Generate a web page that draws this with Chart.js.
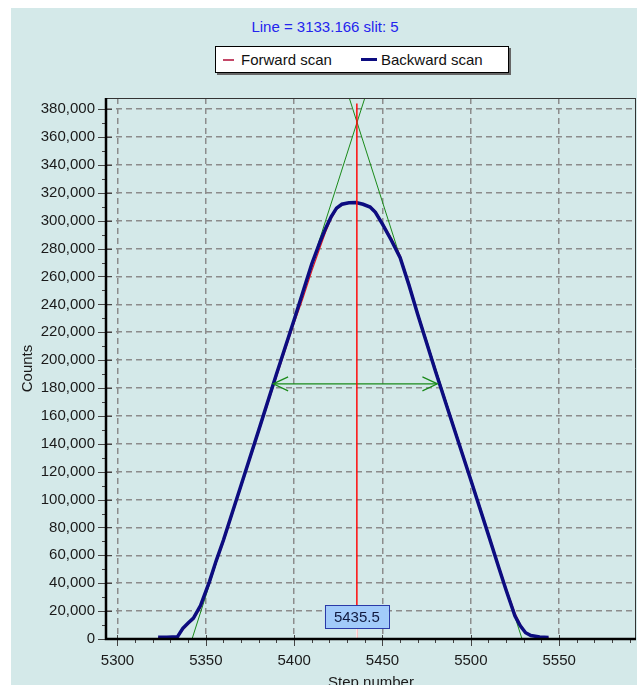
<!DOCTYPE html>
<html>
<head>
<meta charset="utf-8">
<script src="https://cdn.jsdelivr.net/npm/chart.js@4.4.1/dist/chart.umd.min.js"></script>
<style>
  html, body { margin: 0; padding: 0; overflow: hidden; background: #fff; width: 637px; height: 685px; }
  #panel { position: absolute; left: 11px; top: 8px; width: 626px; height: 677px; background: #d4e9e9; }
  #chart { position: absolute; left: 0; top: 0; }
  #title { position: absolute; left: 0; top: 18px; width: 650px; text-align: center;
           font: 15px "Liberation Sans", Arial, sans-serif; color: #2424ee; }
  #legend { position: absolute; left: 215px; top: 46px; width: 292px; height: 25px; background: #fff;
            border: 1px solid #000; box-shadow: 2px 2px 0 #666;
            font: 15px "Liberation Sans", Arial, sans-serif; color: #111; }
  #legend .sw { position: absolute; }
  #legend .txt { position: absolute; top: 4px; white-space: nowrap; }
</style>
</head>
<body>
<div id="panel"></div>
<div id="title">Line = 3133.166 slit: 5</div>
<div id="legend">
  <span class="sw" style="left:7px;top:12px;width:11px;height:2px;background:#c44868"></span>
  <span class="txt" style="left:25px">Forward scan</span>
  <span class="sw" style="left:145px;top:11px;width:16px;height:3px;background:#0c0c80"></span>
  <span class="txt" style="left:165px">Backward scan</span>
</div>
<canvas id="chart" width="637" height="700"></canvas>
<script>
// scan data: step number vs counts
const steps = [5323, 5328, 5334, 5337, 5340, 5343, 5347, 5352, 5356, 5360, 5370, 5380, 5390, 5400,
  5405, 5410, 5415, 5418, 5421, 5424, 5427, 5431, 5435, 5439, 5443, 5446, 5450, 5455, 5460, 5465,
  5470, 5480, 5490, 5500, 5510, 5516, 5520, 5525, 5528, 5531, 5534, 5539, 5544]
const backwardCounts = [1200, 1200, 1700, 7700, 11500, 15000, 24000, 41000, 56600, 71000, 110500,
  150000, 190000, 229000, 249000, 269000, 286000, 295000, 303000, 309000, 311800, 312800, 313000,
  311800, 309800, 306000, 297500, 286000, 273500, 253800, 232500, 192000, 153000, 114000, 74500,
  50500, 35000, 16500, 9500, 4500, 2500, 1500, 1000]
const forwardCounts = [1000, 1000, 1500, 6500, 10500, 14000, 22500, 39500, 55000, 69500, 109000,
  148500, 188000, 226500, 244500, 264000, 282000, 292500, 301500, 308000, 311300, 312600, 313000,
  312000, 310300, 306800, 298500, 287500, 275000, 255500, 234000, 193500, 154500, 115500, 76000,
  52000, 36500, 18500, 10500, 5000, 2800, 1500, 1000]

// fitted edges, centre line and half-height width
const leftTangentX = [5342.2, 5440.0]
const leftTangentY = [0, 388000]
const rightTangentX = [5529.0, 5431.2]
const rightTangentY = [0, 388000]
const peakStep = 5435.5
const peakLineY = [0, 384000]
const halfWidthX = [5388.1, 5481.1]
const halfWidthLevel = 183000

// axes
const xTicks = [5300, 5350, 5400, 5450, 5500, 5550]
const yTicks = [0, 20000, 40000, 60000, 80000, 100000, 120000, 140000, 160000, 180000, 200000,
  220000, 240000, 260000, 280000, 300000, 320000, 340000, 360000, 380000]
const xRange = [5293.5, 5593.5]
const yRange = [0, 388000]

const FONT = '"Liberation Sans", Arial, sans-serif'
const pts = (xs, ys) => xs.map((x, i) => ({ x, y: ys[i] }))

// axis lines, tick marks, arrowheads and the centre label
const decor = {
  id: 'decor',
  afterDatasetsDraw(chart) {
    const { ctx, chartArea: a, scales: { x, y } } = chart
    ctx.save()

    // arrowheads on the width marker
    const yl = y.getPixelForValue(halfWidthLevel)
    const xl = x.getPixelForValue(halfWidthX[0])
    const xr = x.getPixelForValue(halfWidthX[1])
    ctx.strokeStyle = '#1a8a1a'
    ctx.lineWidth = 1.2
    ctx.beginPath()
    ctx.moveTo(xl + 15, yl - 7); ctx.lineTo(xl, yl); ctx.lineTo(xl + 15, yl + 7)
    ctx.moveTo(xr - 15, yl - 7); ctx.lineTo(xr, yl); ctx.lineTo(xr - 15, yl + 7)
    ctx.stroke()

    // centre value box
    const px = x.getPixelForValue(peakStep)
    const bw = 64, bh = 23, bb = a.bottom - 11
    ctx.strokeStyle = '#ffffff'
    ctx.lineWidth = 1.5
    ctx.beginPath(); ctx.moveTo(px, bb); ctx.lineTo(px, a.bottom); ctx.stroke()
    ctx.fillStyle = '#a2cbfa'
    ctx.fillRect(px - bw / 2, bb - bh, bw, bh)
    ctx.strokeStyle = '#2a3aa8'
    ctx.lineWidth = 1
    ctx.strokeRect(Math.round(px - bw / 2) + 0.5, bb - bh + 0.5, bw, bh)
    ctx.fillStyle = '#101a40'
    ctx.font = '15px ' + FONT
    ctx.textAlign = 'center'
    ctx.textBaseline = 'middle'
    ctx.fillText(peakStep.toFixed(1), px, bb - bh / 2 + 1)
    ctx.restore()
  },
  afterDraw(chart) {
    const { ctx, chartArea: a, scales: { x, y } } = chart
    ctx.save()
    // thin frame on top / right
    ctx.strokeStyle = '#333'
    ctx.lineWidth = 1
    ctx.beginPath()
    ctx.moveTo(a.left, a.top + 0.5); ctx.lineTo(a.right, a.top + 0.5)
    ctx.moveTo(a.right - 0.5, a.top); ctx.lineTo(a.right - 0.5, a.bottom)
    ctx.stroke()

    // ticks
    ctx.strokeStyle = '#444'
    ctx.lineWidth = 1
    ctx.beginPath()
    for (let v = 5300; v < xRange[1]; v += 10) {
      const p = Math.round(x.getPixelForValue(v)) + 0.5
      const major = xTicks.includes(v)
      ctx.moveTo(p, a.bottom - (major ? 4 : 0)); ctx.lineTo(p, a.bottom + (major ? 7 : 4))
    }
    for (let v = 0; v <= 380000; v += 10000) {
      const p = Math.round(y.getPixelForValue(v)) + 0.5
      const major = yTicks.includes(v)
      ctx.moveTo(a.left - (major ? 8 : 4), p); ctx.lineTo(a.left + (major ? 6 : 0), p)
    }
    ctx.stroke()

    // heavy axes
    ctx.strokeStyle = '#000'
    ctx.lineWidth = 2.5
    ctx.beginPath()
    ctx.moveTo(a.left, a.top); ctx.lineTo(a.left, a.bottom)
    ctx.lineTo(a.right, a.bottom)
    ctx.stroke()
    ctx.restore()
  }
}

new Chart(document.getElementById('chart'), {
  type: 'line',
  data: {
    datasets: [
      { label: 'Backward scan', data: pts(steps, backwardCounts), borderColor: '#0c0c80',
        borderWidth: 3.5, order: 1 },
      { label: 'Forward scan', data: pts(steps, forwardCounts), borderColor: '#e8141c',
        borderWidth: 1.2, order: 2 },
      { label: 'edge L', data: pts(leftTangentX, leftTangentY), borderColor: '#1a8a1a',
        borderWidth: 1, order: 3 },
      { label: 'edge R', data: pts(rightTangentX, rightTangentY), borderColor: '#1a8a1a',
        borderWidth: 1, order: 3 },
      { label: 'width', data: pts(halfWidthX, [halfWidthLevel, halfWidthLevel]), borderColor: '#1a8a1a',
        borderWidth: 1.2, order: 3 },
      { label: 'centre', data: pts([peakStep, peakStep], peakLineY), borderColor: '#ff0a0a',
        borderWidth: 1.5, order: 0 }
    ]
  },
  options: {
    responsive: false,
    animation: false,
    devicePixelRatio: 1,
    elements: { point: { radius: 0 }, line: { tension: 0 } },
    layout: { padding: { top: 98, right: 1, left: 0, bottom: 0 } },
    plugins: { legend: { display: false }, tooltip: { enabled: false } },
    scales: {
      x: {
        type: 'linear',
        min: xRange[0],
        max: xRange[1],
        afterBuildTicks: s => { s.ticks = xTicks.map(v => ({ value: v })) },
        afterFit: s => { s.height = 61 },
        ticks: { font: { family: FONT, size: 15 }, color: '#1a1a1a', padding: 13, autoSkip: false,
          maxRotation: 0, callback: v => String(v) },
        grid: { color: '#8c8c8c', lineWidth: 1.5, drawTicks: false },
        border: { display: false, dash: [6, 4] },
        title: { display: true, text: 'Step number', font: { family: FONT, size: 15 }, color: '#1a1a1a',
          padding: { top: 0, bottom: 8 } }
      },
      y: {
        min: yRange[0],
        max: yRange[1],
        afterBuildTicks: s => { s.ticks = yTicks.map(v => ({ value: v })) },
        afterFit: s => { s.width = 106 },
        ticks: { font: { family: FONT, size: 15 }, color: '#1a1a1a', padding: 11, autoSkip: false,
          callback: v => v.toLocaleString('en-US') },
        grid: { color: '#8c8c8c', lineWidth: 1.5, drawTicks: false },
        border: { display: false, dash: [6, 4] },
        title: { display: true, text: 'Counts', font: { family: FONT, size: 15 }, color: '#1a1a1a',
          padding: { top: 19, bottom: 0 } }
      }
    }
  },
  plugins: [decor]
})
</script>
</body>
</html>
